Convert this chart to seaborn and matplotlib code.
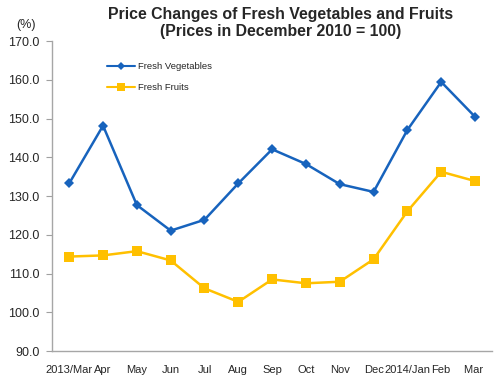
import pandas as pd
import matplotlib
matplotlib.use("Agg")
import matplotlib.pyplot as plt
import seaborn as sns

months = ["2013/Mar", "Apr", "May", "Jun", "Jul", "Aug", "Sep", "Oct",
          "Nov", "Dec", "2014/Jan", "Feb", "Mar "]
vegetables = [133.3, 148.2, 127.7, 121.1, 123.9, 133.3, 142.1, 138.3,
              133.1, 131.1, 147.1, 159.5, 150.5]
fruits = [114.4, 114.7, 115.8, 113.4, 106.2, 102.7, 108.5, 107.5,
          107.9, 113.7, 126.1, 136.3, 133.9]
series_names = ["Fresh Vegetables", "Fresh Fruits"]
y_ticks = [90, 100, 110, 120, 130, 140, 150, 160, 170]

df = pd.DataFrame({
    "month": months * 2,
    "value": vegetables + fruits,
    "series": [series_names[0]] * len(months) + [series_names[1]] * len(months),
})

sns.set_style("white")
plt.rcParams["font.family"] = ["Liberation Sans", "DejaVu Sans"]

fig = plt.figure(figsize=(5.03, 3.82), dpi=100)
ax = fig.add_axes([0.104, 0.081, 0.874, 0.811])

palette = {"Fresh Vegetables": "#1763BD", "Fresh Fruits": "#FFC000"}
sns.lineplot(data=df, x="month", y="value", hue="series", style="series",
             markers={"Fresh Vegetables": "D", "Fresh Fruits": "s"},
             dashes=False, palette=palette, sort=False, ax=ax,
             linewidth=1.8, markeredgewidth=0)
for line in ax.lines:
    if line.get_marker() == "D":
        line.set_markersize(5.5)
    else:
        line.set_markersize(7)

ax.set_xlim(-0.5, 12.5)
ax.set_ylim(90, 170)
ax.set_yticks(y_ticks)
ax.set_yticklabels([f"{v:.1f}" for v in y_ticks], fontsize=9)
ax.tick_params(axis="x", length=0, labelsize=8, pad=10)
ax.tick_params(axis="y", length=4, width=0.8, color="#A0A0A0",
               direction="out", left=True, pad=5)
ax.set_xlabel("")
ax.set_ylabel("")

for side in ["top", "right"]:
    ax.spines[side].set_visible(False)
for side in ["left", "bottom"]:
    ax.spines[side].set_color("#A6A6A6")
    ax.spines[side].set_linewidth(1)

handles, labels = ax.get_legend_handles_labels()
for h in handles:
    h.set_linewidth(1.5)
    if h.get_marker() == "D":
        h.set_markersize(4)
    else:
        h.set_markersize(5.5)
ax.legend(handles, labels, loc="upper left", bbox_to_anchor=(0.105, 0.96),
          frameon=False, fontsize=6.8, handlelength=3, handletextpad=0.3,
          labelspacing=1.25)

fig.text(0.557, 0.982, "Price Changes of Fresh Vegetables and Fruits\n"
         "(Prices in December 2010 = 100)", ha="center", va="top",
         fontsize=11.4, fontweight="bold", linespacing=1.15)
fig.text(0.032, 0.918, "(%)", ha="left", va="bottom", fontsize=9)

fig.savefig("out.png", dpi=100)
plt.close(fig)
